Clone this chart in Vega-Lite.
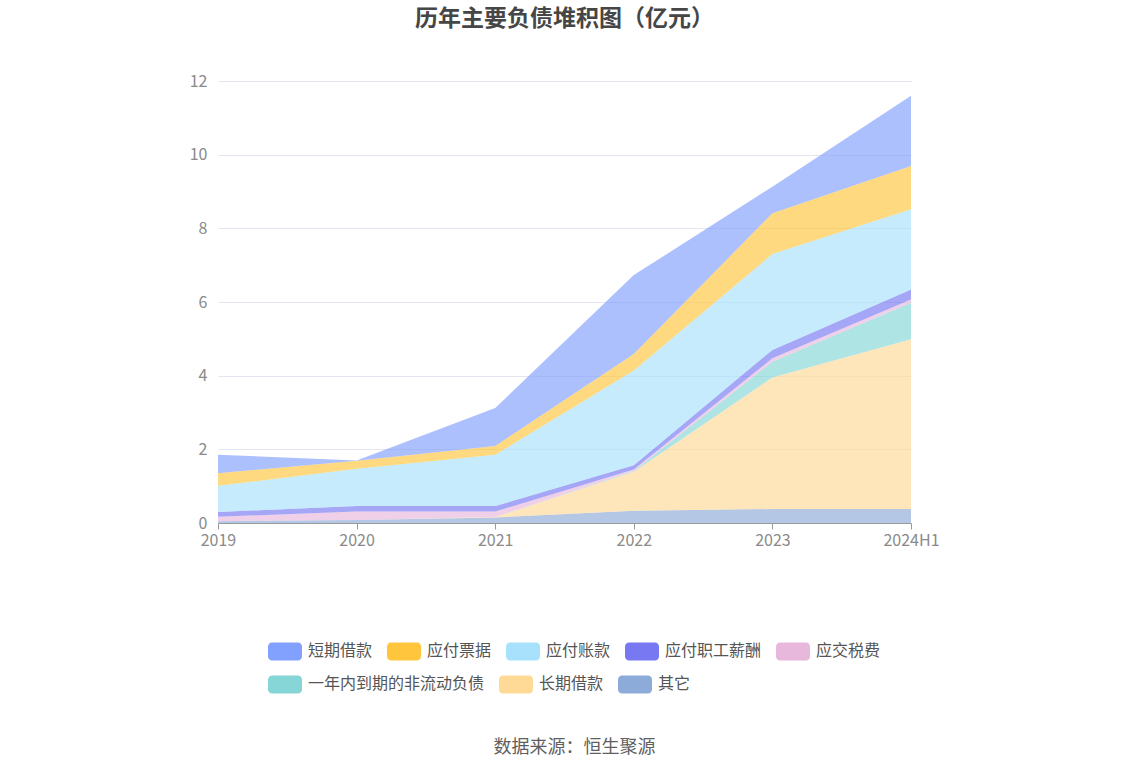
{
  "$schema": "https://vega.github.io/schema/vega-lite/v6.json",
  "width": 693,
  "height": 442,
  "autosize": {"type": "none"},
  "padding": {"left": 218, "top": 81, "right": 236, "bottom": 253},
  "background": "white",
  "config": {
    "font": "Noto Sans CJK SC",
    "view": {"stroke": null}
  },
  "title": {
    "text": "历年主要负债堆积图（亿元）",
    "fontSize": 23,
    "fontWeight": "bold",
    "color": "#464646",
    "font": "Noto Sans CJK SC",
    "anchor": "middle",
    "offset": 42
  },
  "datasets": {
    "rows": [
      {"year": "2019", "s": "其它", "v": 0.05},
      {"year": "2019", "s": "长期借款", "v": 0},
      {"year": "2019", "s": "一年内到期的非流动负债", "v": 0},
      {"year": "2019", "s": "应交税费", "v": 0.12},
      {"year": "2019", "s": "应付职工薪酬", "v": 0.13},
      {"year": "2019", "s": "应付账款", "v": 0.71},
      {"year": "2019", "s": "应付票据", "v": 0.34},
      {"year": "2019", "s": "短期借款", "v": 0.50},
      {"year": "2020", "s": "其它", "v": 0.08},
      {"year": "2020", "s": "长期借款", "v": 0},
      {"year": "2020", "s": "一年内到期的非流动负债", "v": 0},
      {"year": "2020", "s": "应交税费", "v": 0.23},
      {"year": "2020", "s": "应付职工薪酬", "v": 0.15},
      {"year": "2020", "s": "应付账款", "v": 1.01},
      {"year": "2020", "s": "应付票据", "v": 0.22},
      {"year": "2020", "s": "短期借款", "v": 0.01},
      {"year": "2021", "s": "其它", "v": 0.15},
      {"year": "2021", "s": "长期借款", "v": 0.01},
      {"year": "2021", "s": "一年内到期的非流动负债", "v": 0},
      {"year": "2021", "s": "应交税费", "v": 0.15},
      {"year": "2021", "s": "应付职工薪酬", "v": 0.15},
      {"year": "2021", "s": "应付账款", "v": 1.39},
      {"year": "2021", "s": "应付票据", "v": 0.24},
      {"year": "2021", "s": "短期借款", "v": 1.03},
      {"year": "2022", "s": "其它", "v": 0.33},
      {"year": "2022", "s": "长期借款", "v": 1.06},
      {"year": "2022", "s": "一年内到期的非流动负债", "v": 0.02},
      {"year": "2022", "s": "应交税费", "v": 0.04},
      {"year": "2022", "s": "应付职工薪酬", "v": 0.12},
      {"year": "2022", "s": "应付账款", "v": 2.57},
      {"year": "2022", "s": "应付票据", "v": 0.45},
      {"year": "2022", "s": "短期借款", "v": 2.14},
      {"year": "2023", "s": "其它", "v": 0.38},
      {"year": "2023", "s": "长期借款", "v": 3.57},
      {"year": "2023", "s": "一年内到期的非流动负债", "v": 0.43},
      {"year": "2023", "s": "应交税费", "v": 0.09},
      {"year": "2023", "s": "应付职工薪酬", "v": 0.23},
      {"year": "2023", "s": "应付账款", "v": 2.60},
      {"year": "2023", "s": "应付票据", "v": 1.11},
      {"year": "2023", "s": "短期借款", "v": 0.72},
      {"year": "2024H1", "s": "其它", "v": 0.38},
      {"year": "2024H1", "s": "长期借款", "v": 4.61},
      {"year": "2024H1", "s": "一年内到期的非流动负债", "v": 0.99},
      {"year": "2024H1", "s": "应交税费", "v": 0.09},
      {"year": "2024H1", "s": "应付职工薪酬", "v": 0.27},
      {"year": "2024H1", "s": "应付账款", "v": 2.18},
      {"year": "2024H1", "s": "应付票据", "v": 1.17},
      {"year": "2024H1", "s": "短期借款", "v": 1.91}
    ],
    "stackorder": [
      {"s": "其它", "k": 0},
      {"s": "长期借款", "k": 1},
      {"s": "一年内到期的非流动负债", "k": 2},
      {"s": "应交税费", "k": 3},
      {"s": "应付职工薪酬", "k": 4},
      {"s": "应付账款", "k": 5},
      {"s": "应付票据", "k": 6},
      {"s": "短期借款", "k": 7}
    ]
  },
  "data": {"name": "rows"},
  "transform": [
    {"lookup": "s", "from": {"data": {"name": "stackorder"}, "key": "s", "fields": ["k"]}}
  ],
  "encoding": {
    "x": {
      "field": "year",
      "type": "ordinal",
      "scale": {"type": "point", "padding": 0},
      "axis": {
        "labelAngle": 0,
        "labelFontSize": 16,
        "labelColor": "#8a8a8a",
        "labelPadding": 3,
        "domainColor": "#9a9a9a",
        "tickColor": "#9a9a9a",
        "tickSize": 6,
        "grid": false,
        "title": "数据来源：恒生聚源",
        "titleFontSize": 18,
        "titleFontWeight": "normal",
        "titleColor": "#5f5f5f",
        "titlePadding": 190,
        "titleX": 356
      }
    },
    "y": {
      "field": "v",
      "type": "quantitative",
      "scale": {"domain": [0, 12], "nice": false},
      "axis": {
        "values": [0, 2, 4, 6, 8, 10, 12],
        "title": null,
        "domain": false,
        "ticks": false,
        "labelFontSize": 16,
        "labelColor": "#8a8a8a",
        "labelPadding": 11,
        "gridColor": "#e3e6ef"
      }
    }
  },
  "layer": [
    {
      "mark": {"type": "area", "fillOpacity": 0.66, "interpolate": "linear"},
      "encoding": {
        "y": {"field": "v", "type": "quantitative", "stack": "zero"},
        "order": {"field": "k", "type": "quantitative", "sort": "ascending"},
        "color": {
          "field": "s",
          "type": "nominal",
          "scale": {
            "domain": ["短期借款", "应付票据", "应付账款", "应付职工薪酬", "应交税费", "一年内到期的非流动负债", "长期借款", "其它"],
            "range": ["#82a0fd", "#ffc53d", "#a7e1fb", "#7878f3", "#e8b8dc", "#86d6d8", "#ffd996", "#8dabd9"]
          },
          "legend": {
            "orient": "none",
            "legendX": 50,
            "legendY": 553,
            "direction": "horizontal",
            "values": ["短期借款", "应付票据", "应付账款", "应付职工薪酬", "应交税费"],
            "title": null,
            "symbolType": "M-0.765,-0.53H0.765A0.235,0.235 0 0 1 1,-0.295V0.295A0.235,0.235 0 0 1 0.765,0.53H-0.765A0.235,0.235 0 0 1 -1,0.295V-0.295A0.235,0.235 0 0 1 -0.765,-0.53Z",
            "symbolSize": 1156,
            "symbolOpacity": 1,
            "symbolStrokeWidth": 0,
            "labelFontSize": 16,
            "labelColor": "#555555",
            "labelOffset": 6,
            "columnPadding": 14,
            "labelLimit": 300
          }
        }
      }
    },
    {
      "mark": {"type": "point", "filled": true, "size": 0, "strokeWidth": 0},
      "encoding": {
        "fill": {
          "field": "s",
          "type": "nominal",
          "scale": {
            "domain": ["一年内到期的非流动负债", "长期借款", "其它"],
            "range": ["#86d6d8", "#ffd996", "#8dabd9"]
          },
          "legend": {
            "orient": "none",
            "legendX": 50,
            "legendY": 586,
            "direction": "horizontal",
            "title": null,
            "symbolType": "M-0.765,-0.53H0.765A0.235,0.235 0 0 1 1,-0.295V0.295A0.235,0.235 0 0 1 0.765,0.53H-0.765A0.235,0.235 0 0 1 -1,0.295V-0.295A0.235,0.235 0 0 1 -0.765,-0.53Z",
            "symbolSize": 1156,
            "symbolOpacity": 1,
            "symbolStrokeWidth": 0,
            "labelFontSize": 16,
            "labelColor": "#555555",
            "labelOffset": 6,
            "columnPadding": 14,
            "labelLimit": 300
          }
        }
      }
    }
  ]
}
